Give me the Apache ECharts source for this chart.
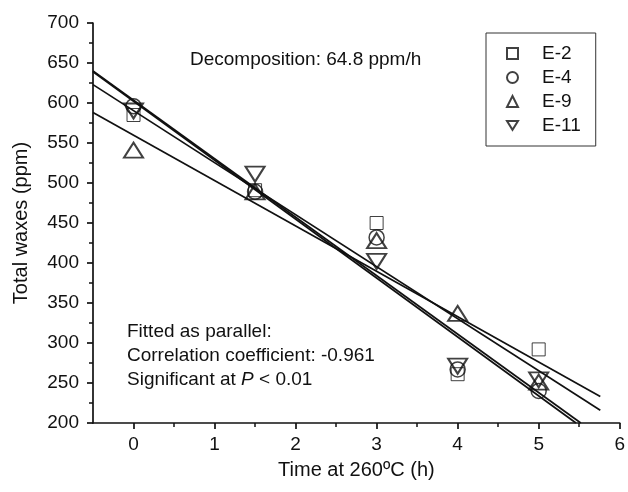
<!DOCTYPE html>
<html>
<head>
    <meta charset="utf-8">
    <title>Total waxes</title>
    <script type="text/javascript" src="https://cdn.jsdelivr.net/npm/echarts@6/dist/echarts.min.js"></script>
    <style>
        html, body { margin: 0; padding: 0; background: #fff; }
    </style>
</head>
<body>
<div id="main" style="width:628px;height:492px;"></div>

<script type="text/javascript">
    // 数据
    var times = [0, 1.5, 3, 4, 5];
    var e2 = [585, 491, 450, 261, 292];
    var e4 = [596, 489, 432, 267, 240];
    var e9 = [541, 489, 428, 337, 251];
    var e11 = [590, 511, 402, 271, 254];

    // 拟合线 (端点)
    var fitA = [[-0.5, 588], [5.76, 233]];
    var fitB = [[-0.5, 623], [5.76, 216]];
    var fitC = [[-0.5, 640], [5.52, 200]];
    var fitD = [[-0.5, 639], [5.46, 200]];

    var xMajor = [0, 1, 2, 3, 4, 5, 6];
    var xMinor = [0.5, 1.5, 2.5, 3.5, 4.5, 5.5];

    var font = '"Liberation Sans", Arial, sans-serif';
    var ink = '#111';

    function pairs(ys) {
        var out = [];
        for (var i = 0; i < times.length; i++) {
            out.push([times[i], ys[i]]);
        }
        return out;
    }

    var downTri = 'path://M0,0L20,0L10,16Z';

    function markerSeries(name, ys, symbol, size, bw) {
        return {
            name: name,
            type: 'scatter',
            data: pairs(ys),
            symbol: symbol,
            symbolSize: size,
            z: 3,
            itemStyle: {
                color: 'rgba(0,0,0,0)',
                borderColor: ink,
                borderWidth: bw
            }
        };
    }

    function fitSeries(pts) {
        return {
            type: 'line',
            data: pts,
            symbol: 'none',
            silent: true,
            z: 2,
            lineStyle: { color: ink, width: 1.7 }
        };
    }

    var myChart = echarts.init(document.getElementById('main'));

    var option = {
        animation: false,
        backgroundColor: '#fff',
        grid: { left: 93, right: 7, top: 23, bottom: 69 },
        legend: {
            orient: 'vertical',
            left: 486,
            top: 33,
            data: ['E-2', 'E-4', 'E-9', 'E-11'],
            itemWidth: 11,
            itemHeight: 11,
            itemGap: 5,
            padding: [11, 15, 11, 20],
            borderColor: '#333',
            borderWidth: 1,
            selectedMode: false,
            textStyle: { fontFamily: font, fontSize: 19, color: ink, padding: [0, 0, 0, 19] }
        },
        xAxis: [{
            type: 'value',
            min: -0.5,
            max: 6,
            name: 'Time at 260ºC (h)',
            nameLocation: 'middle',
            nameGap: 37,
            nameTextStyle: { fontFamily: font, fontSize: 20, color: ink },
            splitLine: { show: false },
            axisLine: { onZero: false, lineStyle: { color: ink, width: 1.7 } },
            axisTick: { customValues: xMajor, length: 6, inside: false, lineStyle: { color: ink, width: 1.7 } },
            axisLabel: { customValues: xMajor, fontFamily: font, fontSize: 19, color: ink, margin: 12 }
        }, {
            type: 'value',
            min: -0.5,
            max: 6,
            position: 'bottom',
            splitLine: { show: false },
            axisLine: { show: false, onZero: false },
            axisTick: { show: true, customValues: xMinor, length: 4, lineStyle: { color: ink, width: 1.5 } },
            axisLabel: { show: false }
        }],
        yAxis: {
            type: 'value',
            min: 200,
            max: 700,
            interval: 50,
            name: 'Total waxes (ppm)',
            nameLocation: 'middle',
            nameGap: 62,
            nameTextStyle: { fontFamily: font, fontSize: 20, color: ink },
            splitLine: { show: false },
            axisLine: { show: true, onZero: false, lineStyle: { color: ink, width: 1.7 } },
            axisTick: { show: true, length: 6, lineStyle: { color: ink, width: 1.7 } },
            minorTick: { show: true, splitNumber: 2, length: 4, lineStyle: { color: ink, width: 1.5 } },
            axisLabel: { fontFamily: font, fontSize: 19, color: ink, margin: 14 }
        },
        graphic: [{
            type: 'text',
            left: 190,
            top: 50,
            style: { text: 'Decomposition: 64.8 ppm/h', font: '19px ' + font, fill: ink }
        }, {
            type: 'text',
            left: 127,
            top: 320,
            style: {
                text: 'Fitted as parallel:\nCorrelation coefficient: -0.961\nSignificant at {i|P} < 0.01',
                font: '19px ' + font,
                fill: ink,
                lineHeight: 24,
                rich: { i: { fontStyle: 'italic', fontSize: 19, fontFamily: font, lineHeight: 24 } }
            }
        }],
        series: [
            fitSeries(fitA),
            fitSeries(fitB),
            fitSeries(fitC),
            fitSeries(fitD),
            markerSeries('E-2', e2, 'rect', 13, 1),
            markerSeries('E-4', e4, 'circle', 15, 1.5),
            markerSeries('E-9', e9, 'triangle', [19, 15], 2),
            markerSeries('E-11', e11, downTri, [19, 15], 2)
        ]
    };

    myChart.setOption(option);
</script>
</body>
</html>
